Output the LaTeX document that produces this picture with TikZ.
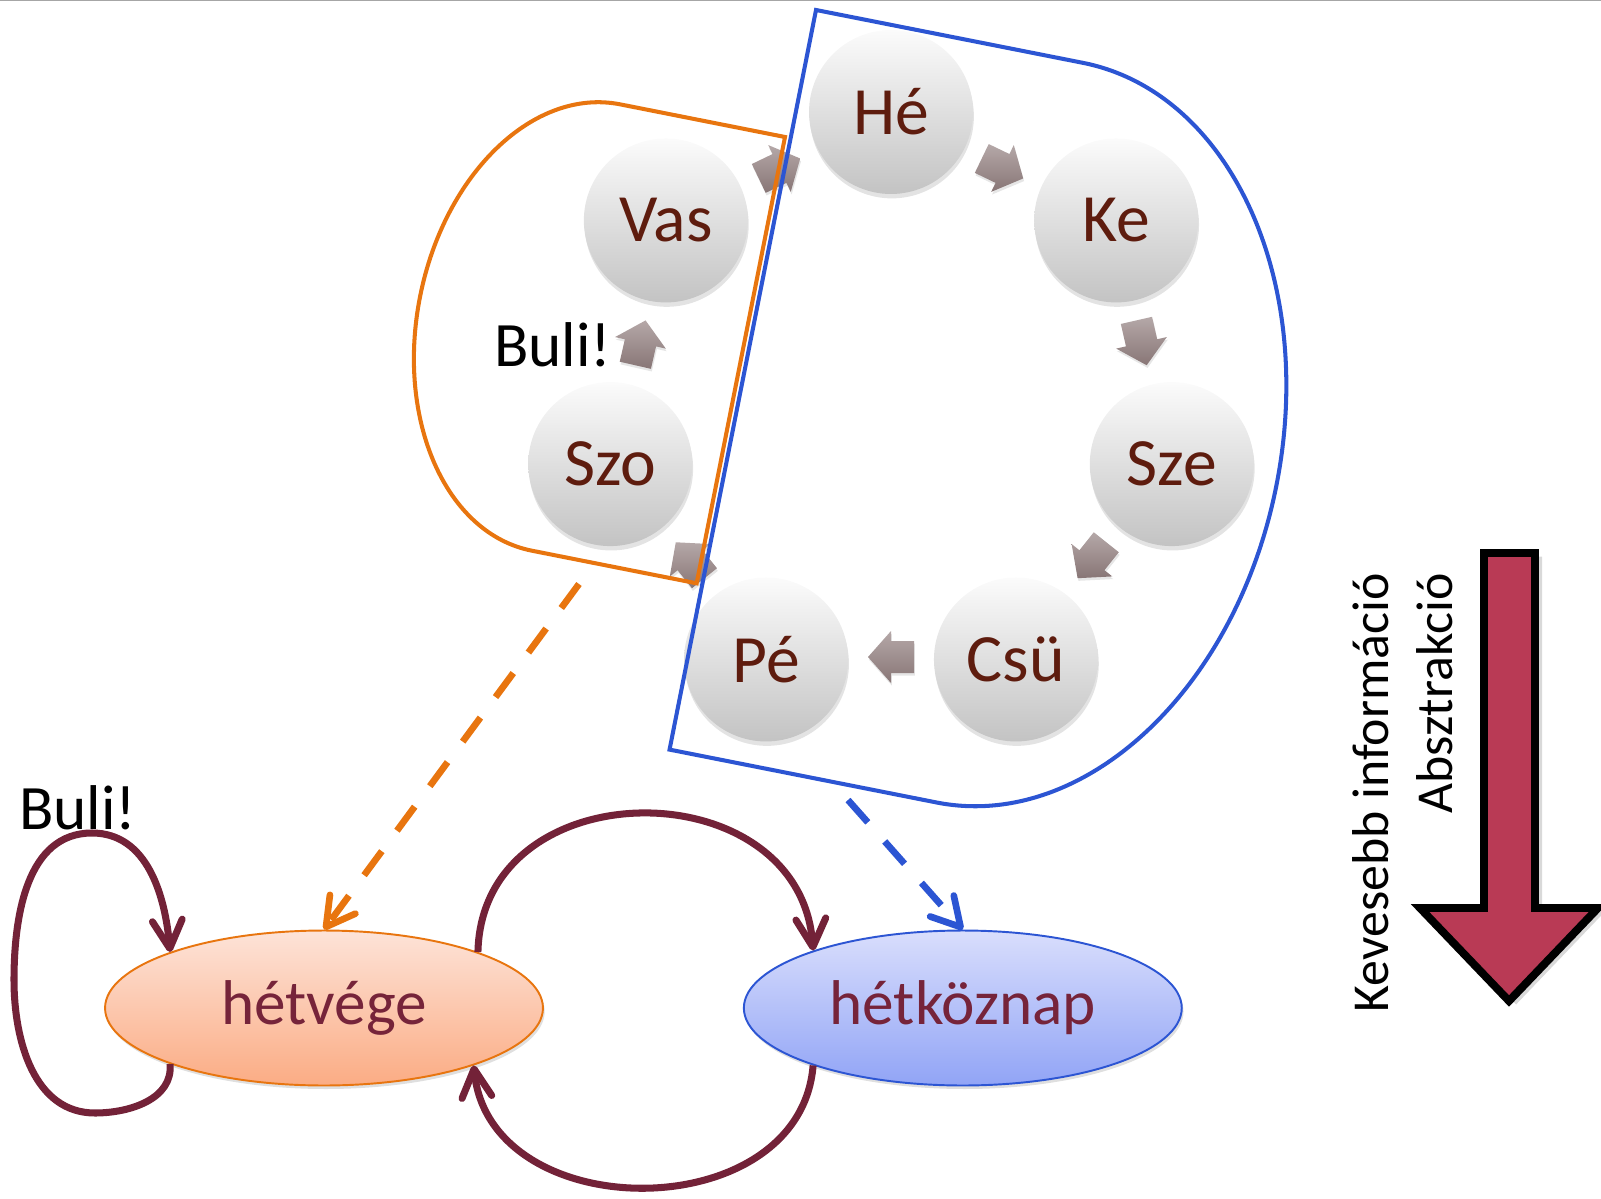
\documentclass[tikz,border=0pt]{standalone}
\usepackage{fontspec}
\setmainfont{Carlito}
\usetikzlibrary{positioning, calc, arrows.meta, shapes.geometric, shadows}

\definecolor{daytext}{HTML}{5E1C0E}
\definecolor{statetext}{HTML}{76243A}
\definecolor{maroonline}{HTML}{732238}
\definecolor{hullorange}{HTML}{E8750F}
\definecolor{hullblue}{HTML}{2C55D3}
\definecolor{arrowred}{HTML}{B93A55}
\definecolor{turnlight}{HTML}{B5A8A8}
\definecolor{turndark}{HTML}{887676}
\definecolor{weekendtop}{HTML}{FDE3D8}
\definecolor{weekendbot}{HTML}{FBAC84}
\definecolor{weekdaytop}{HTML}{D9DEFC}
\definecolor{weekdaybot}{HTML}{91A4F6}

\begin{document}
\begin{tikzpicture}[x=0.02cm, y=0.02cm,
    day/.style={circle, minimum size=3.28cm, inner sep=0pt,
      top color=gray!3, bottom color=gray!47, text=daytext,
      font=\fontsize{38.5}{42}\selectfont,
      drop shadow={shadow xshift=0.5pt, shadow yshift=-2.5pt, opacity=0.22}},
    cyclearrow/.style={top color=turnlight, bottom color=turndark,
      drop shadow={shadow xshift=0.5pt, shadow yshift=-1.5pt, opacity=0.2}},
    hull/.style={draw=#1, line width=2.3pt, line join=miter},
    state/.style={ellipse, line width=1.1pt, minimum width=8.76cm,
      minimum height=3.1cm, inner sep=0pt, text=statetext,
      font=\fontsize{36}{40}\selectfont,
      drop shadow={shadow xshift=1pt, shadow yshift=-2pt, opacity=0.25}},
    abstr/.style={draw=#1, line width=3.8pt, dash pattern=on 17pt off 14.5pt,
      -{Straight Barb[length=16pt,width=18pt,round]}},
    trans/.style={draw=maroonline, line width=4pt,
      -{Straight Barb[length=16pt,width=17pt,round]}},
    bulilabel/.style={font=\fontsize{36}{40}\selectfont},
    sidetext/.style={rotate=90, anchor=base east, inner sep=0pt,
      font=\fontsize{29.5}{36}\selectfont}
  ]
  \useasboundingbox (0,0) rectangle (1601,1198);
  \draw[gray!70, line width=1pt] (0,1197.5) -- (1601,1197.5);

  % the week as a ring of days
  \coordinate (ring) at (891,798);
  \foreach \ang in {90,38.57,-12.86,-64.29,-115.71,-167.14,141.43}
    \shade[cyclearrow, shift={($(ring)+({\ang-25.71}:257)$)}, rotate={\ang-115.71}]
      (-23,-16) -- (0,-16) -- (0,-26) -- (23,0) -- (0,26) -- (0,16) -- (-23,16) -- cycle;
  \foreach \name/\ang/\day in {he/90/Hé, ke/38.57/Ke, sze/-12.86/Sze,
      csu/-64.29/Csü, pe/-115.71/Pé, szo/-167.14/Szo, vas/141.43/Vas}
    \node[day] (\name) at ($(ring)+(\ang:288)$) {\day};
  \node[bulilabel] (bulikor) at (553,853) {Buli!};

  % groups
  \draw[hull=hullblue, shift={(816,1188)}, rotate=-11.2]
    (0,0) -- (272,0) arc[start angle=90, end angle=-90, x radius=272, y radius=377]
    -- (0,-754) -- cycle;
  \draw[hull=hullorange, shift={(785,1061)}, rotate=-11.2]
    (0,0) -- (-168,0) arc[start angle=90, end angle=270, x radius=159, y radius=227.5]
    -- (0,-455) -- cycle;
  \coordinate (weekendfoot) at (579,614);
  \coordinate (weekdayfoot) at (848,398);

  % the abstract automaton
  \node[state, draw=hullorange, top color=weekendtop, bottom color=weekendbot]
    (hetvege) at (324,190) {hétvége};
  \node[state, draw=hullblue, top color=weekdaytop, bottom color=weekdaybot, right=3.98cm of hetvege]
    (hetkoznap) {hétköznap};

  \draw[abstr=hullorange] (weekendfoot) -- (hetvege.north);
  \draw[abstr=hullblue] (weekdayfoot) -- (hetkoznap.north);

  \draw[trans] (hetvege.20) .. controls (482,430) and (800,430) .. (hetkoznap.159);
  \draw[trans] (hetkoznap.201) .. controls (800,-30) and (490,-30) .. (hetvege.-21);
  \draw[trans] (hetvege.200) to[out=-85,in=0] (95,85) to[out=180,in=-90] (14,218)
    to[out=90,in=180] (92,365) to[out=0,in=95] (hetvege.160);
  \node[bulilabel] (bulihurok) at (78,390) {Buli!};

  % less information downwards
  \draw[line width=4.5pt, fill=arrowred, line join=miter,
      drop shadow={shadow xshift=4pt, shadow yshift=-2pt, opacity=0.3}]
    (1484,645) -- (1535,645) -- (1535,290) -- (1598,290) -- (1509,197)
    -- (1420,290) -- (1484,290) -- cycle;
  \node[sidetext] (kevesebb) at (1388,625) {Kevesebb információ};
  \node[sidetext] (absztrakcio) at (1452,625) {Absztrakció};
\end{tikzpicture}
\end{document}
